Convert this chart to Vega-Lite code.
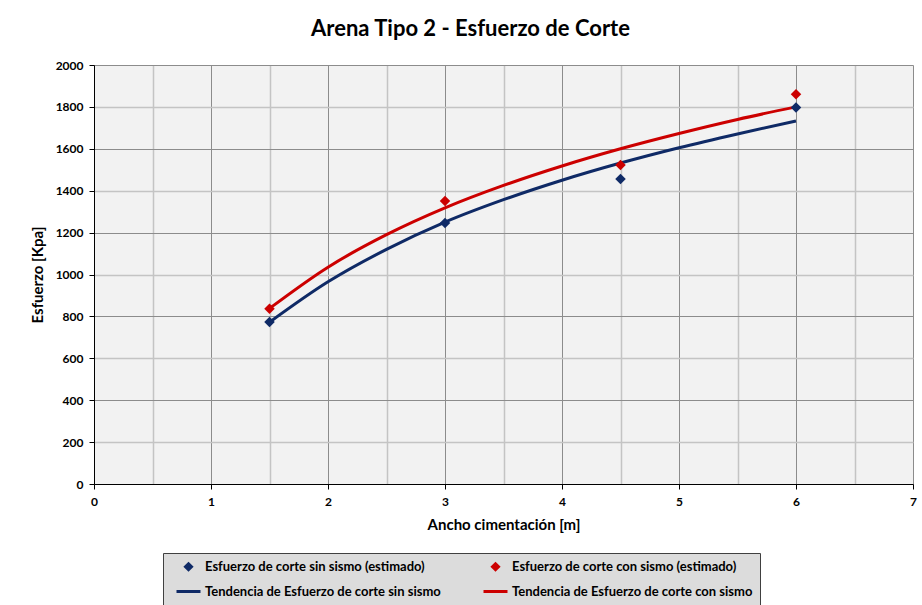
{
  "$schema": "https://vega.github.io/schema/vega-lite/v6.json",
  "autosize": {"type": "none"},
  "width": 819,
  "height": 419,
  "padding": {"left": 94, "top": 65, "right": 9, "bottom": 121},
  "background": "white",
  "config": {
    "font": "Lato",
    "view": {"fill": "#f2f2f2", "stroke": null}
  },
  "title": {
    "text": "Arena Tipo 2 - Esfuerzo de Corte",
    "fontSize": 22,
    "fontWeight": "bold",
    "font": "Lato",
    "color": "black",
    "anchor": "middle",
    "dx": -33,
    "offset": 18
  },
  "data": {
    "values": [
      {"x": 1.5, "y": 772, "serie": "Tendencia de Esfuerzo de corte sin sismo", "tipo": "linea"},
      {"x": 2.0, "y": 965, "serie": "Tendencia de Esfuerzo de corte sin sismo", "tipo": "linea"},
      {"x": 2.5, "y": 1120, "serie": "Tendencia de Esfuerzo de corte sin sismo", "tipo": "linea"},
      {"x": 3.0, "y": 1250, "serie": "Tendencia de Esfuerzo de corte sin sismo", "tipo": "linea"},
      {"x": 3.5, "y": 1357, "serie": "Tendencia de Esfuerzo de corte sin sismo", "tipo": "linea"},
      {"x": 4.0, "y": 1450, "serie": "Tendencia de Esfuerzo de corte sin sismo", "tipo": "linea"},
      {"x": 4.5, "y": 1532, "serie": "Tendencia de Esfuerzo de corte sin sismo", "tipo": "linea"},
      {"x": 5.0, "y": 1605, "serie": "Tendencia de Esfuerzo de corte sin sismo", "tipo": "linea"},
      {"x": 5.5, "y": 1671, "serie": "Tendencia de Esfuerzo de corte sin sismo", "tipo": "linea"},
      {"x": 6.0, "y": 1733, "serie": "Tendencia de Esfuerzo de corte sin sismo", "tipo": "linea"},
      {"x": 1.5, "y": 838, "serie": "Tendencia de Esfuerzo de corte con sismo", "tipo": "linea"},
      {"x": 2.0, "y": 1035, "serie": "Tendencia de Esfuerzo de corte con sismo", "tipo": "linea"},
      {"x": 2.5, "y": 1190, "serie": "Tendencia de Esfuerzo de corte con sismo", "tipo": "linea"},
      {"x": 3.0, "y": 1318, "serie": "Tendencia de Esfuerzo de corte con sismo", "tipo": "linea"},
      {"x": 3.5, "y": 1425, "serie": "Tendencia de Esfuerzo de corte con sismo", "tipo": "linea"},
      {"x": 4.0, "y": 1518, "serie": "Tendencia de Esfuerzo de corte con sismo", "tipo": "linea"},
      {"x": 4.5, "y": 1600, "serie": "Tendencia de Esfuerzo de corte con sismo", "tipo": "linea"},
      {"x": 5.0, "y": 1673, "serie": "Tendencia de Esfuerzo de corte con sismo", "tipo": "linea"},
      {"x": 5.5, "y": 1740, "serie": "Tendencia de Esfuerzo de corte con sismo", "tipo": "linea"},
      {"x": 6.0, "y": 1800, "serie": "Tendencia de Esfuerzo de corte con sismo", "tipo": "linea"},
      {"x": 1.5, "y": 773, "serie": "Esfuerzo de corte sin sismo (estimado)", "tipo": "punto"},
      {"x": 3.0, "y": 1246, "serie": "Esfuerzo de corte sin sismo (estimado)", "tipo": "punto"},
      {"x": 4.5, "y": 1456, "serie": "Esfuerzo de corte sin sismo (estimado)", "tipo": "punto"},
      {"x": 6.0, "y": 1797, "serie": "Esfuerzo de corte sin sismo (estimado)", "tipo": "punto"},
      {"x": 1.5, "y": 837, "serie": "Esfuerzo de corte con sismo (estimado)", "tipo": "punto"},
      {"x": 3.0, "y": 1351, "serie": "Esfuerzo de corte con sismo (estimado)", "tipo": "punto"},
      {"x": 4.5, "y": 1523, "serie": "Esfuerzo de corte con sismo (estimado)", "tipo": "punto"},
      {"x": 6.0, "y": 1860, "serie": "Esfuerzo de corte con sismo (estimado)", "tipo": "punto"}
    ]
  },
  "encoding": {
    "x": {
      "field": "x", "type": "quantitative",
      "scale": {"domain": [0, 7], "nice": false, "zero": false},
      "axis": {
        "title": "Ancho cimentación [m]",
        "titleFontSize": 15, "titleFontWeight": "bold", "titleColor": "black", "titleFont": "Lato",
        "titlePadding": 10,
        "values": [0, 0.5, 1, 1.5, 2, 2.5, 3, 3.5, 4, 4.5, 5, 5.5, 6, 6.5, 7],
        "format": ".1f",
        "labelExpr": "datum.value % 1 === 0 ? replace(datum.label, '.0', '') : ''",
        "labelFontSize": 12, "labelFontWeight": "bold", "labelColor": "black", "labelPadding": 7,
        "labelFlush": false,
        "domainColor": "black", "domainWidth": 1,
        "tickColor": {"condition": {"test": "datum.value % 1 === 0", "value": "black"}, "value": "transparent"},
        "tickSize": 5,
        "grid": true,
        "gridColor": {"condition": {"test": "datum.value % 1 === 0", "value": "#8c8c8c"}, "value": "#c4c4c4"},
        "gridWidth": {"condition": {"test": "datum.value % 1 === 0", "value": 1}, "value": 1.5}
      }
    },
    "y": {
      "field": "y", "type": "quantitative",
      "scale": {"domain": [0, 2000], "nice": false},
      "axis": {
        "title": "Esfuerzo [Kpa]",
        "titleFontSize": 15, "titleFontWeight": "bold", "titleColor": "black", "titleFont": "Lato",
        "titlePadding": 10,
        "values": [0, 200, 400, 600, 800, 1000, 1200, 1400, 1600, 1800, 2000],
        "format": "d",
        "labelFontSize": 12, "labelFontWeight": "bold", "labelColor": "black", "labelPadding": 6,
        "domainColor": "black", "domainWidth": 1,
        "tickColor": "black", "tickSize": 5,
        "grid": true,
        "gridColor": {"condition": {"test": "datum.value % 400 === 0", "value": "#8c8c8c"}, "value": "#c4c4c4"},
        "gridWidth": {"condition": {"test": "datum.value % 400 === 0", "value": 1}, "value": 1.5}
      }
    },
    "color": {
      "field": "serie", "type": "nominal",
      "scale": {
        "domain": [
          "Esfuerzo de corte sin sismo (estimado)",
          "Esfuerzo de corte con sismo (estimado)",
          "Tendencia de Esfuerzo de corte sin sismo",
          "Tendencia de Esfuerzo de corte con sismo"
        ],
        "range": ["#0f2a66", "#cc0000", "#0f2a66", "#cc0000"]
      },
      "legend": {
        "title": null,
        "orient": "none",
        "direction": "horizontal",
        "legendX": 69,
        "legendY": 488,
        "columns": 2,
        "columnPadding": 36,
        "rowPadding": 9,
        "labelFontSize": 13, "labelFontWeight": "bold", "labelColor": "black", "labelFont": "Lato",
        "labelLimit": 400,
        "labelOffset": 10,
        "symbolSize": 36,
        "symbolOffset": 12,
        "symbolStrokeWidth": 3,
        "fillColor": "#dcdcdc",
        "strokeColor": "#404040",
        "padding": 7,
        "encode": {
          "symbols": {"update": {"stroke": {"scale": "color", "field": "value"}}}
        }
      }
    }
  },
  "layer": [
    {
      "transform": [{"filter": "datum.tipo === 'linea'"}],
      "mark": {"type": "line", "strokeWidth": 3, "interpolate": "monotone"}
    },
    {
      "transform": [{"filter": "datum.tipo === 'punto'"}],
      "mark": {"type": "point", "filled": true, "size": 110, "opacity": 1},
      "encoding": {
        "shape": {
          "field": "serie", "type": "nominal",
          "scale": {
            "domain": [
              "Esfuerzo de corte sin sismo (estimado)",
              "Esfuerzo de corte con sismo (estimado)",
              "Tendencia de Esfuerzo de corte sin sismo",
              "Tendencia de Esfuerzo de corte con sismo"
            ],
            "range": ["M0,-1L1,0L0,1L-1,0Z", "M0,-1L1,0L0,1L-1,0Z", "M-4,0H4", "M-4,0H4"]
          }
        }
      }
    }
  ]
}
